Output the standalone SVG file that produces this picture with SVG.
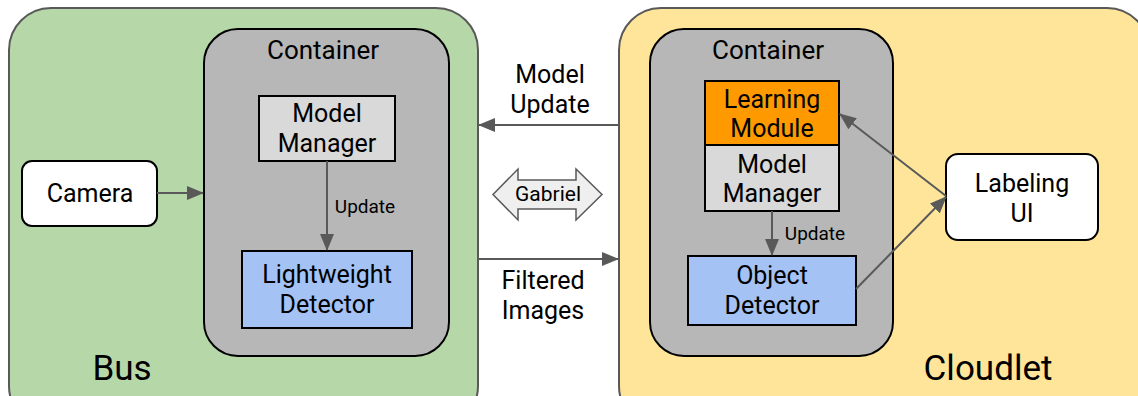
<svg xmlns="http://www.w3.org/2000/svg" width="1138" height="396" viewBox="0 0 1138 396">
<style>
text{font-family:Roboto,"Liberation Sans",sans-serif;fill:#000;text-anchor:middle}
.c{font-size:26px}
.t{font-size:25px}
.s{font-size:19px}
.g{font-size:21px}
.b{font-size:35px}
.box{stroke:#000;stroke-width:2}
.cn{stroke:#595959;stroke-width:2;fill:none}
</style>
<defs>
<marker id="ah" viewBox="0 0 17 14" refX="16" refY="7" markerWidth="17" markerHeight="14" orient="auto" markerUnits="userSpaceOnUse">
<path d="M0,0 L17,7 L0,14 z" fill="#595959"/>
</marker>
</defs>
<rect width="1138" height="396" fill="#fff"/>
<g id="bus">
<rect x="9" y="8" width="469" height="420" rx="42" fill="#b6d7a8" stroke="#595959" stroke-width="2"/>
<text class="b" x="122" y="380">Bus</text>
</g>
<g id="cloudlet">
<rect x="619" y="8" width="530" height="420" rx="42" fill="#ffe599" stroke="#595959" stroke-width="2"/>
<text class="b" x="988" y="380">Cloudlet</text>
</g>
<g id="bus-container">
<rect class="box" x="204" y="29" width="245" height="327" rx="34" fill="#b7b7b7"/>
<text class="c" x="323" y="59">Container</text>
</g>
<g id="cloudlet-container">
<rect class="box" x="650" y="29" width="243" height="327" rx="34" fill="#b7b7b7"/>
<text class="c" x="768" y="59">Container</text>
</g>
<g id="camera">
<rect class="box" x="22" y="161" width="135" height="65" rx="10" fill="#fff"/>
<text class="t" x="90" y="202">Camera</text>
</g>
<g id="bus-model-manager">
<rect class="box" x="259" y="96" width="136" height="65" fill="#d9d9d9"/>
<text class="t" x="327" y="122">Model</text>
<text class="t" x="327" y="152">Manager</text>
</g>
<g id="lightweight-detector">
<rect class="box" x="242" y="251" width="170" height="77" fill="#a4c2f4"/>
<text class="t" x="327" y="283">Lightweight</text>
<text class="t" x="327" y="313">Detector</text>
</g>
<g id="learning-module">
<rect class="box" x="705" y="81" width="134" height="64" fill="#ff9900"/>
<text class="t" x="772" y="108">Learning</text>
<text class="t" x="772" y="137">Module</text>
</g>
<g id="cloudlet-model-manager">
<rect class="box" x="705" y="145" width="134" height="66" fill="#d9d9d9"/>
<text class="t" x="772" y="173">Model</text>
<text class="t" x="772" y="202">Manager</text>
</g>
<g id="object-detector">
<rect class="box" x="688" y="256" width="168" height="69" fill="#a4c2f4"/>
<text class="t" x="772" y="284">Object</text>
<text class="t" x="772" y="314">Detector</text>
</g>
<g id="labeling-ui">
<rect class="box" x="946" y="154" width="152" height="86" rx="12" fill="#fff"/>
<text class="t" x="1022" y="192">Labeling</text>
<text class="t" x="1022" y="222">UI</text>
</g>
<g id="gabriel">
<path d="M493,194.5 L518,169 L518,180 L576,180 L576,169 L602,194.5 L576,220 L576,209 L518,209 L518,220 Z" fill="#efefef" stroke="#595959" stroke-width="1.5"/>
<text class="g" x="548" y="201">Gabriel</text>
</g>
<g id="connectors">
<line class="cn" x1="157" y1="193" x2="203" y2="193" marker-end="url(#ah)"/>
<line class="cn" x1="327" y1="161" x2="327" y2="250" marker-end="url(#ah)"/>
<text class="s" x="365" y="213">Update</text>
<line class="cn" x1="620" y1="125" x2="479" y2="125" marker-end="url(#ah)"/>
<text class="t" x="550" y="83">Model</text>
<text class="t" x="550" y="113">Update</text>
<line class="cn" x1="478" y1="259" x2="618" y2="259" marker-end="url(#ah)"/>
<text class="t" x="543" y="289">Filtered</text>
<text class="t" x="543" y="319">Images</text>
<line class="cn" x1="772" y1="211" x2="772" y2="255" marker-end="url(#ah)"/>
<text class="s" x="815" y="240">Update</text>
<line class="cn" x1="946" y1="196" x2="840" y2="114" marker-end="url(#ah)"/>
<line class="cn" x1="856" y1="289" x2="946" y2="197" marker-end="url(#ah)"/>
</g>
</svg>
